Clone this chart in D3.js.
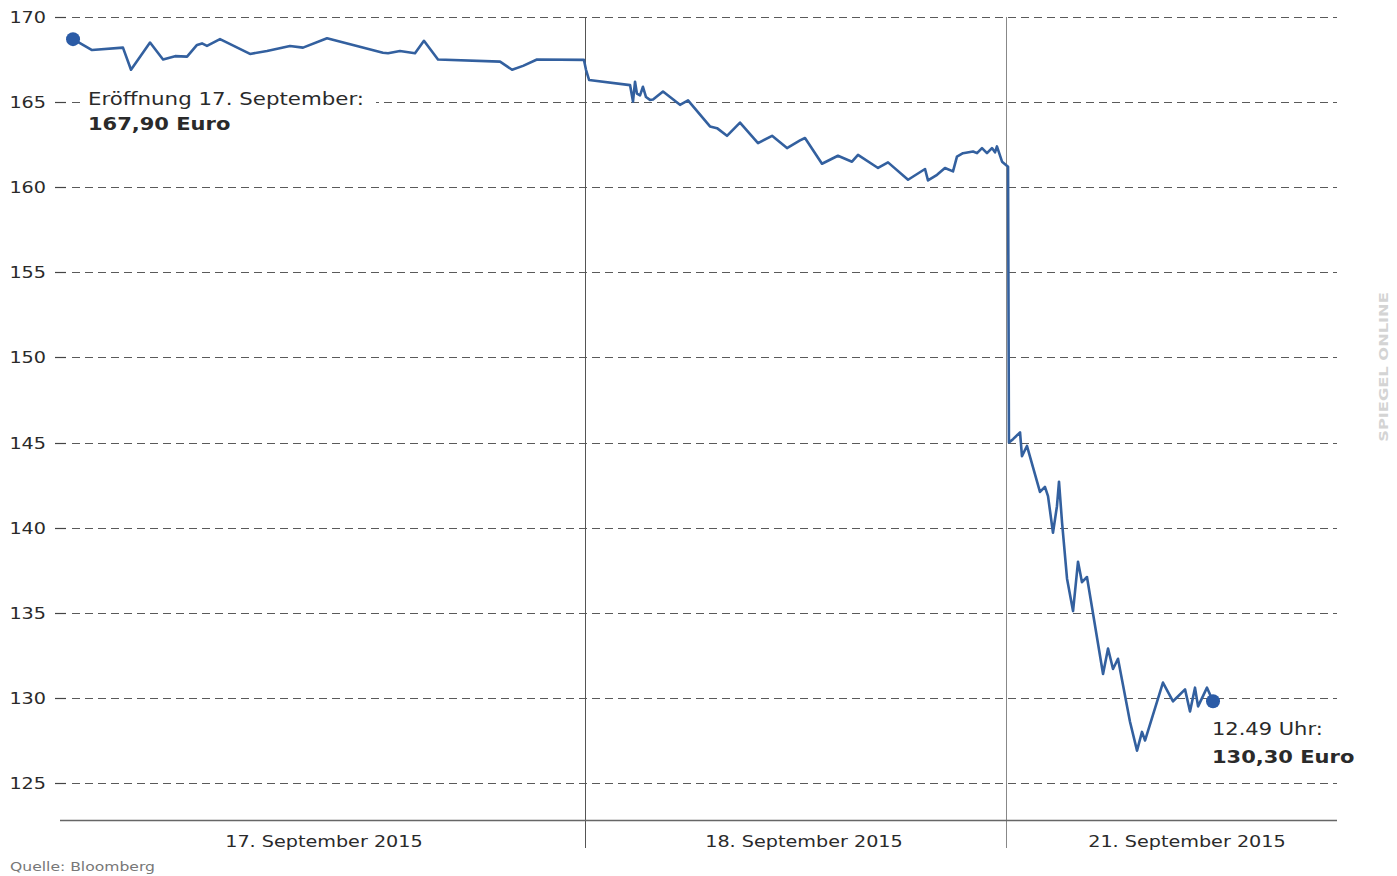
<!DOCTYPE html>
<html>
<head>
<meta charset="utf-8">
<script src="https://cdn.jsdelivr.net/npm/d3@7"></script>
<style>
  html, body { margin: 0; padding: 0; background: #fff; }
  svg { display: block; }
  text { font-family: "DejaVu Sans", Verdana, sans-serif; fill: #2a2a2a; }
</style>
</head>
<body>
<svg id="chart" width="1397" height="876"></svg>
<script>
// ---- data ----
// position along the time axis in percent of the axis width
const pos = [1.02,2.51,4.93,5.56,7.05,8.07,9.01,9.95,10.73,11.12,11.51,12.53,14.88,16.21,18.01,19.03,20.91,25.29,25.69,26.62,27.80,28.50,29.60,34.46,35.40,36.26,37.35,41.03,
  41.19,41.43,44.64,44.87,45.03,45.18,45.42,45.65,45.89,46.20,46.44,47.22,48.55,49.18,50.90,51.45,52.23,53.25,54.66,55.76,56.93,57.95,58.34,59.67,60.92,62.02,62.49,64.06,64.84,66.41,67.74,67.97,68.68,69.30,69.93,70.24,70.71,71.50,71.81,72.20,72.59,72.98,73.22,73.37,73.77,74.24,
  74.31,74.63,75.18,75.33,75.72,76.74,77.13,77.37,77.76,78.07,78.23,78.47,78.86,79.33,79.72,80.03,80.42,81.68,82.07,82.46,82.85,83.79,84.34,84.73,84.97,86.37,87.16,88.10,88.49,88.88,89.12,89.82,90.29];
const price = [168.7,168.06,168.2,166.9,168.5,167.5,167.7,167.67,168.36,168.45,168.3,168.7,167.83,168.0,168.3,168.2,168.75,167.9,167.87,168.0,167.87,168.6,167.5,167.38,166.9,167.13,167.5,167.48,
  166.9,166.3,166.0,165.03,166.2,165.5,165.4,165.9,165.3,165.13,165.15,165.62,164.84,165.1,163.57,163.47,163.02,163.8,162.59,163.02,162.3,162.75,162.89,161.38,161.85,161.5,161.9,161.13,161.46,160.44,161.07,160.4,160.73,161.13,160.93,161.8,162.0,162.1,162.0,162.3,162.0,162.3,162.05,162.4,161.5,161.2,
  145.0,145.2,145.6,144.2,144.8,142.1,142.4,141.85,139.7,141.26,142.7,140.3,137.0,135.1,138.0,136.8,137.1,131.4,132.9,131.7,132.3,128.6,126.9,128.0,127.5,130.9,129.8,130.5,129.2,130.6,129.5,130.6,129.8];

const yTicks = [125,130,135,140,145,150,155,160,165,170];
const dayLabels = ["17. September 2015","18. September 2015","21. September 2015"];
const dayLabelPos = [20.67, 58.26, 88.25];
const dayDividers = [41.11, 74.08];
const startNote = ["Eröffnung 17. September:", "167,90 Euro"];
const endNote = ["12.49 Uhr:", "130,30 Euro"];
const source = "Quelle: Bloomberg";
const watermark = "SPIEGEL ONLINE";

// ---- drawing ----
const svg = d3.select("#chart");
const SX = 1.2; // horizontal text stretch of the original
const x = d3.scaleLinear().domain([0, 100]).range([60, 1337]);
const y = d3.scaleLinear().domain([125, 170]).range([783, 17]);

function label(g, txt, px, py, opts = {}) {
  const t = g.append("text")
    .attr("transform", `translate(${px},${py}) scale(${opts.sx || SX},1)`)
    .attr("text-anchor", opts.anchor || "start")
    .style("font-size", (opts.size || 16) + "px")
    .style("font-weight", opts.bold ? "bold" : "normal")
    .text(txt);
  if (opts.fill) t.style("fill", opts.fill);
  return t;
}

// grid lines
const grid = svg.append("g");
grid.selectAll("line.grid").data(yTicks).join("line")
  .attr("x1", 72).attr("x2", 1337)
  .attr("y1", d => Math.round(y(d)) + 0.5).attr("y2", d => Math.round(y(d)) + 0.5)
  .attr("stroke", "#5a5a5a").attr("stroke-width", 1)
  .attr("stroke-dasharray", "8,5");
grid.selectAll("line.tick").data(yTicks).join("line")
  .attr("x1", 55).attr("x2", 66)
  .attr("y1", d => Math.round(y(d)) + 0.5).attr("y2", d => Math.round(y(d)) + 0.5)
  .attr("stroke", "#444").attr("stroke-width", 1.2);
yTicks.forEach(v => label(grid, String(v), 46, y(v) + 6, { anchor: "end" }));

// day dividers
svg.selectAll("line.div").data(dayDividers).join("line")
  .attr("x1", d => Math.round(x(d)) + 0.5).attr("x2", d => Math.round(x(d)) + 0.5)
  .attr("y1", y(170)).attr("y2", 848)
  .attr("stroke", (d, i) => i === 0 ? "#555" : "#888").attr("stroke-width", 1);

// x axis line
svg.append("line").attr("x1", x(0)).attr("x2", x(100))
  .attr("y1", 820.5).attr("y2", 820.5)
  .attr("stroke", "#666").attr("stroke-width", 1.5);

dayLabels.forEach((d, i) => label(svg, d, x(dayLabelPos[i]), 847, { anchor: "middle" }));

// price line
const data = pos.map((p, i) => ({ p, v: price[i] }));
const line = d3.line().x(d => x(d.p)).y(d => y(d.v));
svg.append("path").datum(data)
  .attr("d", line)
  .attr("fill", "none")
  .attr("stroke", "#33609f")
  .attr("stroke-width", 2.6)
  .attr("stroke-linejoin", "round");

// end points
const first = data[0], last = data[data.length - 1];
svg.append("circle").attr("cx", x(first.p)).attr("cy", y(first.v)).attr("r", 7).attr("fill", "#2b5ba6");
svg.append("circle").attr("cx", x(last.p)).attr("cy", y(last.v)).attr("r", 7).attr("fill", "#2b5ba6");

// annotations
const ann = svg.append("g");
ann.append("rect").attr("x", 84).attr("y", 86).attr("width", 292).attr("height", 50).attr("fill", "#fff");
label(ann, startNote[0], 88, 105, { size: 17.5, sx: 1.22 });
label(ann, startNote[1], 88, 130, { size: 17.5, bold: true, sx: 1.2 });
label(ann, endNote[0], 1212, 735, { size: 17.5, sx: 1.2 });
label(ann, endNote[1], 1212, 763, { size: 17.5, bold: true, sx: 1.2 });

// source
label(svg, source, 10, 871, { size: 13, fill: "#777" });

// watermark
svg.append("text")
  .attr("transform", "translate(1388,367) rotate(-90) scale(1.25,1)")
  .attr("text-anchor", "middle")
  .style("font-size", "13px").style("fill", "#d4d4d4").style("font-weight", "bold")
  .text(watermark);
</script>
</body>
</html>
